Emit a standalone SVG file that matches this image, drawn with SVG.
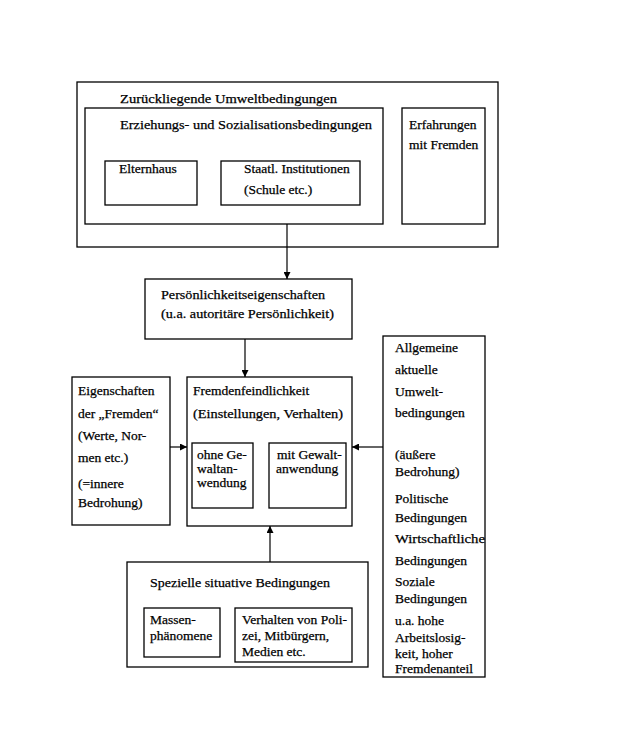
<svg xmlns="http://www.w3.org/2000/svg" width="630" height="750" viewBox="0 0 630 750" font-family="'Liberation Serif', 'DejaVu Serif', serif">
<style>
rect{fill:none;stroke:#000;stroke-width:1.3}
text{font-family:'Liberation Serif','DejaVu Serif',serif;font-size:13.5px;fill:#000;stroke:#000;stroke-width:0.25}
.c{stroke:#000;stroke-width:1.2;fill:none}
</style>
<defs>
<marker id="ah" viewBox="0 0 10 10" refX="10" refY="5" markerWidth="7" markerHeight="7" markerUnits="userSpaceOnUse" orient="auto">
<path d="M0,0 L10,5 L0,10 z" fill="#000"/>
</marker>
</defs>
<rect x="0" y="0" width="630" height="750" style="fill:#fff;stroke:none"/>
<g id="umwelt">
<rect x="77" y="82" width="421" height="165"/>
<text x="120" y="103" textLength="217" lengthAdjust="spacingAndGlyphs">Zurückliegende Umweltbedingungen</text>
</g>
<g id="erziehung">
<rect x="85" y="108" width="298" height="116"/>
<text x="120" y="129" textLength="252" lengthAdjust="spacingAndGlyphs">Erziehungs- und Sozialisationsbedingungen</text>
</g>
<g id="elternhaus">
<rect x="105" y="161" width="92" height="44"/>
<text x="119" y="173">Elternhaus</text>
</g>
<g id="staatl">
<rect x="221" y="161" width="139" height="44"/>
<text x="244" y="173">Staatl. Institutionen</text>
<text x="244" y="194">(Schule etc.)</text>
</g>
<g id="erfahrungen">
<rect x="402" y="108" width="83" height="116"/>
<text x="409" y="129">Erfahrungen</text>
<text x="409" y="149">mit Fremden</text>
</g>
<g id="persoenlichkeit">
<rect x="145" y="279" width="207" height="60"/>
<text x="161" y="299" textLength="164" lengthAdjust="spacingAndGlyphs">Persönlichkeitseigenschaften</text>
<text x="161" y="318" textLength="173" lengthAdjust="spacingAndGlyphs">(u.a. autoritäre Persönlichkeit)</text>
</g>
<g id="eigenschaften">
<rect x="72" y="377" width="98" height="148"/>
<text x="78" y="395">Eigenschaften</text>
<text x="78" y="418">der „Fremden“</text>
<text x="78" y="440">(Werte, Nor-</text>
<text x="78" y="462">men etc.)</text>
<text x="78" y="488">(=innere</text>
<text x="78" y="507">Bedrohung)</text>
</g>
<g id="fremdenfeindlichkeit">
<rect x="187" y="377" width="165" height="149"/>
<text x="193" y="395">Fremdenfeindlichkeit</text>
<text x="193" y="418" textLength="150" lengthAdjust="spacingAndGlyphs">(Einstellungen, Verhalten)</text>
</g>
<g id="ohne">
<rect x="192" y="443" width="61" height="65"/>
<text x="197" y="459">ohne Ge-</text>
<text x="197" y="473">waltan-</text>
<text x="197" y="487">wendung</text>
</g>
<g id="mit">
<rect x="269" y="443" width="77" height="65"/>
<text x="277" y="459">mit Gewalt-</text>
<text x="276" y="473">anwendung</text>
</g>
<g id="allgemeine">
<rect x="383" y="336" width="102" height="341"/>
<text x="395" y="352">Allgemeine</text>
<text x="395" y="374">aktuelle</text>
<text x="395" y="396">Umwelt-</text>
<text x="395" y="417">bedingungen</text>
<text x="395" y="459">(äußere</text>
<text x="395" y="476">Bedrohung)</text>
<text x="395" y="503">Politische</text>
<text x="395" y="522">Bedingungen</text>
<text x="395" y="543" textLength="90" lengthAdjust="spacingAndGlyphs">Wirtschaftliche</text>
<text x="395" y="565">Bedingungen</text>
<text x="395" y="586">Soziale</text>
<text x="395" y="603">Bedingungen</text>
<text x="395" y="625">u.a. hohe</text>
<text x="395" y="642">Arbeitslosig-</text>
<text x="395" y="658">keit, hoher</text>
<text x="395" y="673">Fremdenanteil</text>
</g>
<g id="spezielle">
<rect x="127" y="562" width="241" height="105"/>
<text x="150" y="587" textLength="180" lengthAdjust="spacingAndGlyphs">Spezielle situative Bedingungen</text>
</g>
<g id="massen">
<rect x="144" y="608" width="76" height="49"/>
<text x="150" y="624">Massen-</text>
<text x="150" y="640">phänomene</text>
</g>
<g id="verhalten">
<rect x="235" y="608" width="117" height="54"/>
<text x="242" y="624">Verhalten von Poli-</text>
<text x="242" y="640">zei, Mitbürgern,</text>
<text x="242" y="656">Medien etc.</text>
</g>
<g id="connectors">
<line class="c" x1="287" y1="224" x2="287" y2="279" marker-end="url(#ah)"/>
<line class="c" x1="245" y1="339" x2="245" y2="377" marker-end="url(#ah)"/>
<line class="c" x1="170" y1="447" x2="187" y2="447" marker-end="url(#ah)"/>
<line class="c" x1="383" y1="447" x2="352" y2="447" marker-end="url(#ah)"/>
<line class="c" x1="270" y1="562" x2="270" y2="526" marker-end="url(#ah)"/>
</g>
</svg>
